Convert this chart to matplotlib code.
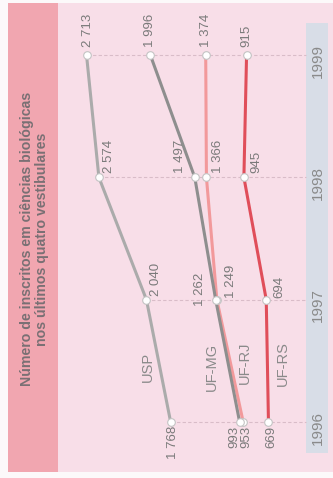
import matplotlib.pyplot as plt
from matplotlib.patches import Rectangle

plt.rcParams["font.family"] = ["Liberation Sans", "DejaVu Sans"]

years = [1996, 1997, 1998, 1999]
universities = ["USP", "UF-RJ", "UF-MG", "UF-RS"]
usp = [1768, 2040, 2574, 2713]
uf_mg = [993, 1262, 1497, 1996]
uf_rj = [953, 1249, 1366, 1374]
uf_rs = [669, 694, 945, 915]
title = "Número de inscritos em ciências biológicas\nnos últimos quatro vestibulares"

series = {"USP": usp, "UF-RJ": uf_rj, "UF-MG": uf_mg, "UF-RS": uf_rs}
colors = {"USP": "#ababab", "UF-MG": "#8e8e8e", "UF-RJ": "#f2999b", "UF-RS": "#e04e5a"}

# label placement per (series, year index): dx, dy in pixels, ha, va
label_pos = {
    ("USP", 0): (2, -4, "center", "top"),
    ("USP", 1): (4, 4, "left", "bottom"),
    ("USP", 2): (4, 4, "left", "bottom"),
    ("USP", 3): (1, 8, "center", "bottom"),
    ("UF-MG", 0): (-5, -4, "center", "top"),
    ("UF-MG", 1): (-10, 10, "right", "center"),
    ("UF-MG", 2): (-9, 4, "right", "bottom"),
    ("UF-MG", 3): (0, 8, "center", "bottom"),
    ("UF-RJ", 0): (3, -4, "center", "top"),
    ("UF-RJ", 1): (8, 2, "left", "bottom"),
    ("UF-RJ", 2): (6, 4, "left", "bottom"),
    ("UF-RJ", 3): (0, 8, "center", "bottom"),
    ("UF-RS", 0): (3, -4, "center", "top"),
    ("UF-RS", 1): (7, 2, "left", "bottom"),
    ("UF-RS", 2): (6, 4, "left", "bottom"),
    ("UF-RS", 3): (0, 8, "center", "bottom"),
}
name_pos = {"USP": (2022, 1996.45), "UF-MG": (1303, 1996.45),
            "UF-RJ": (933, 1996.48), "UF-RS": (506, 1996.48)}


def fmt(v):
    s = str(v)
    return s[:-3] + " " + s[-3:] if v >= 1000 else s


fig = plt.figure(figsize=(3.33, 4.78), dpi=100)
fig.patch.set_facecolor("#fcf9fa")
ax = fig.add_axes([0, 0, 1, 1])
ax.set_xlim(3685, -56)
ax.set_ylim(1995.542, 1999.45)
ax.axis("off")

# background bands
ax.add_patch(Rectangle((0.024, 0.0126), 0.976, 0.981, transform=ax.transAxes,
                       facecolor="#f8dee8", edgecolor="none", zorder=0))
ax.add_patch(Rectangle((0.024, 0.0126), 0.15, 0.981, transform=ax.transAxes,
                       facecolor="#f1a6b0", edgecolor="none", zorder=0))
ax.add_patch(Rectangle((0.919, 0.052), 0.066, 0.9, transform=ax.transAxes,
                       facecolor="#d8dde7", edgecolor="none", zorder=0))

ax.text(0.104, 0.5, title, transform=ax.transAxes, rotation=90,
        ha="center", va="center", multialignment="center", fontsize=10.2,
        fontweight="bold", color="#7a7074", linespacing=1.15)

for i, y in enumerate(years):
    top = max(v[i] for v in series.values())
    ax.hlines(y, top, 247, colors="#d9bcc8", linestyles=(0, (3, 2)),
              linewidth=0.8, zorder=1)
    ax.text(0.955, (y - 1995.542) / (1999.45 - 1995.542) - 0.012, str(y),
            transform=ax.transAxes, rotation=90, ha="center", va="center",
            fontsize=11, color="#8a8a8a")

for name in universities:
    vals = series[name]
    ax.plot(vals, years, color=colors[name], linewidth=2.2, zorder=2,
            solid_capstyle="round")
    ax.plot(vals, years, "o", markersize=5.5, markerfacecolor="white",
            markeredgecolor="#c4c4c4", markeredgewidth=0.8, zorder=3)
    for i, v in enumerate(vals):
        dx, dy, ha, va = label_pos[(name, i)]
        ax.annotate(fmt(v), (v, years[i]), xytext=(dx, dy),
                    textcoords="offset pixels", rotation=90, ha=ha, va=va,
                    fontsize=9.5, color="#7a7a7a", zorder=4)
    nx, ny = name_pos[name]
    ax.text(nx, ny, name, rotation=90, ha="center", va="center",
            fontsize=10.5, color="#8a8a8a")

fig.savefig("out.png", dpi=100, facecolor=fig.get_facecolor())
